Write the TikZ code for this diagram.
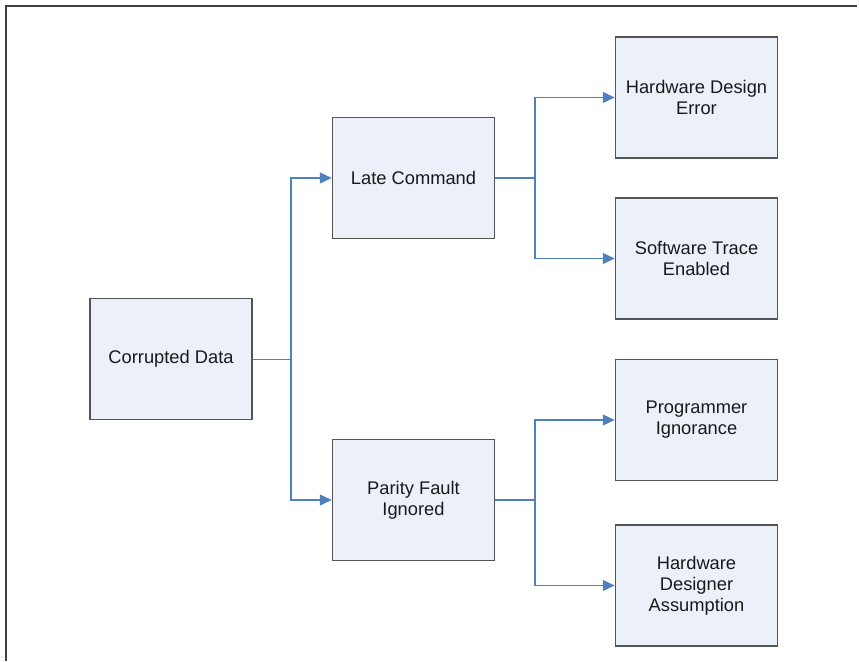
\documentclass[tikz,border=0pt]{standalone}
\usepackage{fontspec}
\setmainfont{Liberation Sans}
\usepackage{xcolor}
\definecolor{Col1}{RGB}{84,84,84}
\definecolor{Col2}{RGB}{79,129,189}
\definecolor{Col3}{RGB}{236,241,249}
\definecolor{Col5}{RGB}{64,64,64}
\usetikzlibrary{arrows.meta}
\tikzstyle{Node}=[rectangle,draw=Col1,fill=Col3,line width=1.5pt,
minimum width=162pt,minimum height=121pt,align=center,
font=\fontsize{18.3}{21}\selectfont,text=black!90]
\tikzstyle{Edge}=[draw=Col2,line width=1.3pt]
\tikzstyle{Arr}=[-{Triangle[length=12pt,width=11pt]}]

\begin{document}
\begin{tikzpicture}[x=1pt,y=-1pt]
            \useasboundingbox(0,0)rectangle(859,661);
            \draw[Col5,line width=1.5pt](6,661)--(6,6)--(857,6);
            \node[Node](0)at(171,359){Corrupted Data};
            \node[Node](1)at(413.5,178){Late Command};
            \node[Node](2)at(413.5,500){Parity Fault\\Ignored};
            \node[Node](3)at(696.5,97.5){Hardware Design\\Error};
            \node[Node](4)at(696.5,258.5){Software Trace\\Enabled};
            \node[Node](5)at(696.5,420){Programmer\\Ignorance};
            \node[Node](6)at(696.5,585.5){Hardware\\Designer\\Assumption};
            \coordinate(j0)at(291,359);
            \coordinate(j1)at(535,178);
            \coordinate(j2)at(535,500);
            \draw[Edge,line width=1pt](0.east)--(j0);
            \draw[Edge,Arr](j0)|-(1.west);
            \draw[Edge,Arr](j0)|-(2.west);
            \draw[Edge](1.east)--(j1);
            \draw[Edge,Arr](j1)|-(3.west);
            \draw[Edge,Arr](j1)|-(4.west);
            \draw[Edge](2.east)--(j2);
            \draw[Edge,Arr](j2)|-(5.west);
            \draw[Edge,Arr](j2)|-(6.west);
        \end{tikzpicture}
\end{document}
